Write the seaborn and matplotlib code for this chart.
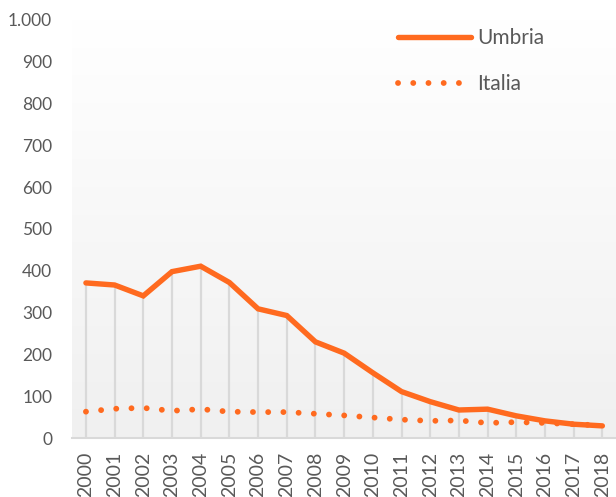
import matplotlib
matplotlib.use("Agg")
import matplotlib.pyplot as plt
from matplotlib.ticker import FuncFormatter
import numpy as np
import pandas as pd
import seaborn as sns

# Data
years = list(range(2000, 2019))
umbria = [371, 366, 340, 398, 411, 372, 309, 293, 230, 203, 156, 111, 87, 67, 69, 53, 41, 33, 29]
italia = [63, 70, 72, 65, 69, 63, 62, 62, 58, 54, 49, 44, 41, 42, 36, 38, 36, 33, 30]

ORANGE = "#FF6A1F"
GREY_TXT = "#595959"

df = pd.DataFrame({"anno": years, "Umbria": umbria, "Italia": italia})

sns.set_theme(style="white")
plt.rcParams["font.family"] = ["Lato", "DejaVu Sans"]

fig = plt.figure(figsize=(6.16, 4.97), dpi=100)
ax = fig.add_axes([0.1162, 0.1187, 0.8896, 0.8411])

# soft vertical gradient in the plot area
grad = np.linspace(0, 1, 256).reshape(-1, 1)
ax.imshow(grad, extent=[1999.5, 2018.6, 0, 1000], aspect="auto",
          cmap=matplotlib.colors.LinearSegmentedColormap.from_list("bg", ["#f0f0f0", "#ffffff"]),
          origin="lower", zorder=0)

# drop lines
ax.vlines(df["anno"], 0, df["Umbria"], color="#d9d9d9", lw=1.6, zorder=1)

sns.lineplot(data=df, x="anno", y="Umbria", ax=ax, color=ORANGE, lw=3.9,
             solid_capstyle="round", solid_joinstyle="miter", label="Umbria", zorder=3)
sns.lineplot(data=df, x="anno", y="Italia", ax=ax, color=ORANGE, lw=4.2,
             linestyle=(0, (0.01, 2.6)), dash_capstyle="round", label="Italia", zorder=3)

ax.set_xlim(1999.5, 2018.6)
ax.set_ylim(0, 1000)
ax.set_xticks(years)
ax.set_xticklabels([str(y) for y in years], rotation=90, fontsize=14, color=GREY_TXT)
ax.set_yticks(range(0, 1001, 100))
ax.yaxis.set_major_formatter(FuncFormatter(lambda v, _: f"{int(v):,}".replace(",", ".")))
ax.tick_params(axis="y", labelsize=12.5, labelcolor=GREY_TXT, length=0, pad=14)
ax.tick_params(axis="x", length=0, pad=10)
ax.set_xlabel("")
ax.set_ylabel("")

for side in ["top", "right", "left"]:
    ax.spines[side].set_visible(False)
ax.spines["bottom"].set_color("#d9d9d9")
ax.spines["bottom"].set_linewidth(1.5)

leg = ax.legend(loc="upper left", bbox_to_anchor=(398 / 616, 1 - 28 / 497),
                bbox_transform=fig.transFigure, frameon=False, fontsize=15,
                borderpad=0, borderaxespad=0,
                handlelength=3.5, handletextpad=0.3, labelspacing=1.25)
for t in leg.get_texts():
    t.set_color(GREY_TXT)

fig.savefig("out.png", dpi=100)
